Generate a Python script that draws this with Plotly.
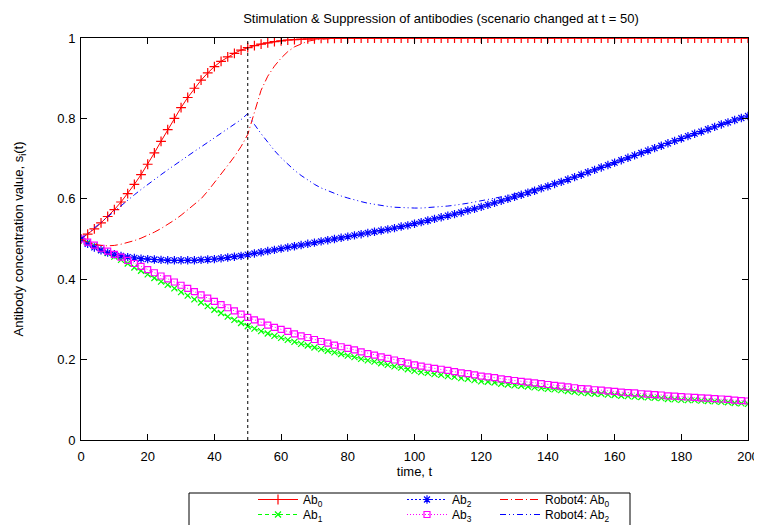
import plotly.graph_objects as go

# ---------------- data ----------------
t = list(range(0, 201, 2))

ab0 = [0.500, 0.512, 0.525, 0.540, 0.556, 0.573, 0.592, 0.613, 0.636, 0.660,
       0.686, 0.714, 0.743, 0.772, 0.800, 0.827, 0.852, 0.875, 0.895, 0.913,
       0.929, 0.942, 0.953, 0.962, 0.970, 0.976, 0.981, 0.985, 0.988, 0.991,
       0.993, 0.995, 0.996, 0.997, 0.998, 0.998, 0.999, 0.999, 0.999, 1.000,
       1.000, 1.000, 1.000, 1.000, 1.000, 1.000, 1.000, 1.000, 1.000, 1.000,
       1.000, 1.000, 1.000, 1.000, 1.000, 1.000, 1.000, 1.000, 1.000, 1.000,
       1.000, 1.000, 1.000, 1.000, 1.000, 1.000, 1.000, 1.000, 1.000, 1.000,
       1.000, 1.000, 1.000, 1.000, 1.000, 1.000, 1.000, 1.000, 1.000, 1.000,
       1.000, 1.000, 1.000, 1.000, 1.000, 1.000, 1.000, 1.000, 1.000, 1.000,
       1.000, 1.000, 1.000, 1.000, 1.000, 1.000, 1.000, 1.000, 1.000, 1.000,
       1.000]

ab1 = [0.500, 0.491, 0.483, 0.473, 0.465, 0.456, 0.448, 0.439, 0.429, 0.421,
       0.412, 0.403, 0.394, 0.386, 0.377, 0.368, 0.359, 0.350, 0.342, 0.333,
       0.324, 0.316, 0.307, 0.299, 0.291, 0.283, 0.277, 0.271, 0.265, 0.259,
       0.254, 0.249, 0.244, 0.239, 0.235, 0.230, 0.226, 0.222, 0.218, 0.214,
       0.210, 0.206, 0.202, 0.198, 0.195, 0.191, 0.187, 0.183, 0.180, 0.176,
       0.172, 0.169, 0.167, 0.164, 0.162, 0.159, 0.157, 0.154, 0.152, 0.149,
       0.146, 0.145, 0.143, 0.140, 0.138, 0.136, 0.135, 0.133, 0.131, 0.129,
       0.127, 0.126, 0.124, 0.122, 0.120, 0.118, 0.117, 0.115, 0.115, 0.113,
       0.112, 0.110, 0.109, 0.108, 0.107, 0.106, 0.105, 0.104, 0.102, 0.101,
       0.100, 0.099, 0.099, 0.098, 0.097, 0.096, 0.095, 0.094, 0.092, 0.091,
       0.090]

ab2 = [0.500, 0.488, 0.479, 0.472, 0.466, 0.462, 0.458, 0.455, 0.453, 0.451,
       0.450, 0.449, 0.448, 0.447, 0.447, 0.447, 0.447, 0.447, 0.448, 0.449,
       0.450, 0.452, 0.454, 0.456, 0.458, 0.461, 0.464, 0.467, 0.470, 0.473,
       0.476, 0.479, 0.482, 0.485, 0.488, 0.491, 0.494, 0.497, 0.500, 0.503,
       0.506, 0.509, 0.512, 0.515, 0.518, 0.521, 0.524, 0.527, 0.531, 0.534,
       0.538, 0.542, 0.546, 0.550, 0.554, 0.558, 0.562, 0.566, 0.571, 0.575,
       0.580, 0.585, 0.590, 0.595, 0.600, 0.605, 0.610, 0.615, 0.620, 0.626,
       0.631, 0.637, 0.642, 0.648, 0.654, 0.660, 0.666, 0.672, 0.678, 0.684,
       0.690, 0.696, 0.702, 0.708, 0.714, 0.720, 0.726, 0.732, 0.738, 0.744,
       0.750, 0.756, 0.762, 0.767, 0.773, 0.779, 0.785, 0.790, 0.796, 0.801,
       0.806]

ab3 = [0.500, 0.492, 0.485, 0.477, 0.470, 0.462, 0.455, 0.447, 0.439, 0.432,
       0.424, 0.416, 0.408, 0.401, 0.393, 0.385, 0.377, 0.369, 0.361, 0.353,
       0.345, 0.337, 0.329, 0.321, 0.313, 0.305, 0.299, 0.293, 0.286, 0.280,
       0.275, 0.270, 0.264, 0.259, 0.255, 0.250, 0.245, 0.241, 0.236, 0.232,
       0.228, 0.224, 0.219, 0.215, 0.211, 0.207, 0.203, 0.199, 0.195, 0.191,
       0.187, 0.184, 0.181, 0.178, 0.176, 0.173, 0.170, 0.167, 0.165, 0.162,
       0.159, 0.157, 0.155, 0.152, 0.150, 0.148, 0.146, 0.144, 0.142, 0.140,
       0.138, 0.136, 0.134, 0.132, 0.130, 0.128, 0.127, 0.125, 0.124, 0.122,
       0.121, 0.119, 0.118, 0.117, 0.115, 0.114, 0.113, 0.112, 0.110, 0.109,
       0.108, 0.107, 0.106, 0.105, 0.104, 0.103, 0.102, 0.101, 0.099, 0.098,
       0.097]

robot_ab0 = [0.500, 0.492, 0.487, 0.484, 0.483, 0.484, 0.487, 0.491, 0.496, 0.502,
             0.509, 0.517, 0.526, 0.536, 0.547, 0.559, 0.572, 0.586, 0.600, 0.619,
             0.640, 0.660, 0.683, 0.705, 0.730, 0.760, 0.815, 0.870, 0.905, 0.930,
             0.950, 0.966, 0.978, 0.986, 0.992, 0.995, 0.997, 0.998, 0.999, 1.000,
             1.000, 1.000, 1.000, 1.000, 1.000, 1.000, 1.000, 1.000, 1.000, 1.000,
             1.000, 1.000, 1.000, 1.000, 1.000, 1.000, 1.000, 1.000, 1.000, 1.000,
             1.000, 1.000, 1.000, 1.000, 1.000, 1.000, 1.000, 1.000, 1.000, 1.000,
             1.000, 1.000, 1.000, 1.000, 1.000, 1.000, 1.000, 1.000, 1.000, 1.000,
             1.000, 1.000, 1.000, 1.000, 1.000, 1.000, 1.000, 1.000, 1.000, 1.000,
             1.000, 1.000, 1.000, 1.000, 1.000, 1.000, 1.000, 1.000, 1.000, 1.000,
             1.000]

robot_ab2 = [0.500, 0.514, 0.528, 0.542, 0.556, 0.570, 0.584, 0.597, 0.610, 0.623,
             0.636, 0.648, 0.660, 0.672, 0.684, 0.696, 0.707, 0.718, 0.729, 0.740,
             0.751, 0.762, 0.773, 0.784, 0.797, 0.812, 0.785, 0.762, 0.740, 0.720,
             0.702, 0.686, 0.671, 0.658, 0.646, 0.636, 0.627, 0.620, 0.613, 0.607,
             0.602, 0.597, 0.593, 0.589, 0.586, 0.583, 0.581, 0.579, 0.578, 0.577,
             0.577, 0.577, 0.578, 0.579, 0.580, 0.582, 0.584, 0.586, 0.589, 0.592,
             0.595, 0.598, 0.601, 0.604, 0.608, 0.612, 0.616, 0.620, 0.625, 0.629,
             0.634, 0.639, 0.644, 0.649, 0.655, 0.660, 0.666, 0.672, 0.678, 0.684,
             0.690, 0.696, 0.702, 0.708, 0.714, 0.720, 0.726, 0.732, 0.738, 0.744,
             0.750, 0.756, 0.762, 0.767, 0.773, 0.779, 0.785, 0.790, 0.796, 0.801,
             0.806]

SCENARIO_T = 50
x_ticks = [0, 20, 40, 60, 80, 100, 120, 140, 160, 180, 200]
y_ticks = [0, 0.2, 0.4, 0.6, 0.8, 1]
y_tick_labels = ["0", "0.2", "0.4", "0.6", "0.8", "1"]

# ---------------- figure ----------------
FONT = "Liberation Sans, Arial, sans-serif"
# the page body has an 8px margin; the figure is sized so the plot lands
# where the reference has it in the 762x525 window
OFF = 8
W, H = 762 - OFF, 525 - OFF
ML, MR, MT, MB = 81 - OFF, 14, 38 - OFF, 85
PW, PH = W - ML - MR, H - MT - MB


def px_to_paper_x(px):          # window pixel -> paper fraction
    return (px - OFF - ML) / PW


def px_to_paper_y(py):
    return (H - MB - (py - OFF)) / PH


fig = go.Figure()

traces = [
    dict(y=ab0, name="Ab<sub>0</sub>", mode="lines+markers",
         line=dict(color="#ff0000", width=1),
         marker=dict(symbol="cross-thin-open", size=7, line=dict(color="#ff0000", width=1.2))),
    dict(y=ab1, name="Ab<sub>1</sub>", mode="lines+markers",
         line=dict(color="#00ff00", width=1, dash="4px,3px"),
         marker=dict(symbol="x-thin-open", size=6, line=dict(color="#00ff00", width=1.2))),
    dict(y=ab2, name="Ab<sub>2</sub>", mode="lines+markers",
         line=dict(color="#0000ff", width=1, dash="2px,2px"),
         marker=dict(symbol="asterisk-open", size=7, line=dict(color="#0000ff", width=1.2))),
    dict(y=ab3, name="Ab<sub>3</sub>", mode="lines+markers",
         line=dict(color="#ff00ff", width=1, dash="1px,2px"),
         marker=dict(symbol="square-open", size=6, line=dict(color="#ff00ff", width=1.2))),
    dict(y=robot_ab0, name="Robot4: Ab<sub>0</sub>", mode="lines",
         line=dict(color="#ff0000", width=1, dash="8px,3px,1px,3px")),
    dict(y=robot_ab2, name="Robot4: Ab<sub>2</sub>", mode="lines",
         line=dict(color="#0000ff", width=1, dash="6px,3px,1px,3px,1px,3px")),
]
# legend slot (window px of left edge, row top) for each trace, in gnuplot's 3x2 key layout
legend_slots = [(253, 485), (253, 500), (402, 485), (402, 500), (495, 485), (495, 500)]

legend_layout = {}
for i, (tr, (lx, ly)) in enumerate(zip(traces, legend_slots)):
    key = "legend" if i == 0 else f"legend{i + 1}"
    fig.add_trace(go.Scatter(x=t, legend=key, **tr))
    legend_layout[key] = dict(x=px_to_paper_x(lx), y=px_to_paper_y(ly),
                              xanchor="left", yanchor="top", orientation="v",
                              borderwidth=0, bgcolor="rgba(0,0,0,0)",
                              font=dict(family=FONT, size=12, color="black"),
                              itemwidth=40, tracegroupgap=0)

fig.add_vline(x=SCENARIO_T, line=dict(color="black", width=1, dash="dot"))

axis_common = dict(showline=True, linecolor="black", linewidth=1, mirror="allticks",
                   ticks="inside", ticklen=6, tickcolor="black", showgrid=False,
                   zeroline=False, tickfont=dict(family=FONT, size=13, color="black"))

fig.update_xaxes(range=[0, 200], tickvals=x_ticks, ticklabelstandoff=4,
                 title=dict(text="time, t",
                            font=dict(family=FONT, size=13, color="black"), standoff=4),
                 **axis_common)
fig.update_yaxes(range=[0, 1], tickvals=y_ticks, ticktext=y_tick_labels,
                 ticklabelstandoff=2,
                 title=dict(text="Antibody concentration value, s<sub>i</sub>(t)",
                            font=dict(family=FONT, size=13, color="black"), standoff=30),
                 **axis_common)

fig.update_layout(
    width=W, height=H,
    margin=dict(l=ML, r=MR, t=MT, b=MB, autoexpand=False),
    paper_bgcolor="white", plot_bgcolor="white",
    title=dict(text="Stimulation &amp; Suppression of antibodies (scenario changed at t = 50)",
               x=(441 - OFF) / W, xanchor="center", y=1 - 10 / H, yanchor="middle",
               font=dict(family=FONT, size=13, color="black")),
    showlegend=True,
    **legend_layout,
)

# legend frame (single box around the key, running off the bottom like the reference)
fig.add_shape(type="rect", xref="paper", yref="paper",
              x0=px_to_paper_x(189), x1=px_to_paper_x(630),
              y0=px_to_paper_y(493), y1=px_to_paper_y(540),
              line=dict(color="black", width=1), fillcolor="rgba(0,0,0,0)")

fig.write_html("out.html")
